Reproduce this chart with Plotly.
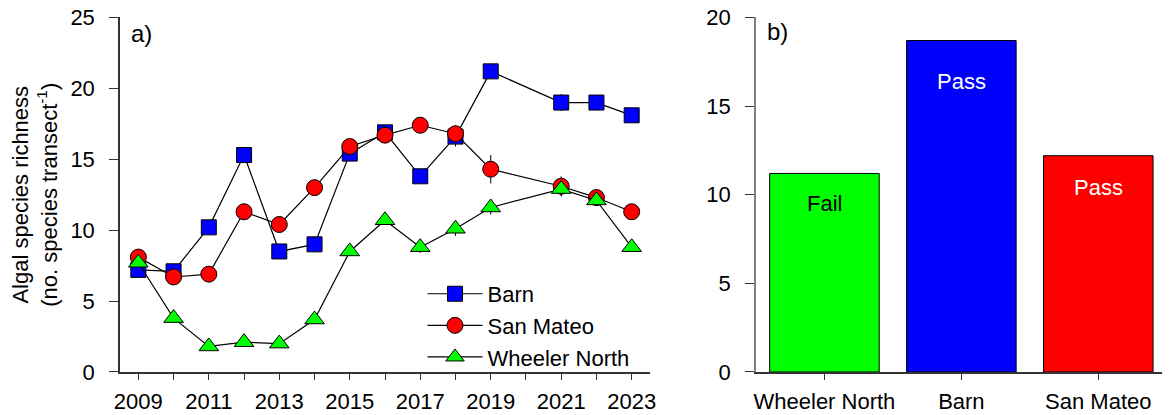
import plotly.graph_objects as go

years = [2009, 2010, 2011, 2012, 2013, 2014, 2015, 2016, 2017, 2018, 2019, 2021, 2022, 2023]

barn = [7.2, 7.1, 10.2, 15.3, 8.5, 9.0, 15.4, 16.9, 13.8, 16.6, 21.2, 19.0, 19.0, 18.1]
barn_se = [0.3, 0.2, 0.3, 0.5, 0.3, 0.3, 0.4, 0.4, 0.3, 0.7, 0.5, 0.6, 0.3, 0.3]

san_mateo = [8.1, 6.7, 6.9, 11.3, 10.4, 13.0, 15.9, 16.7, 17.4, 16.8, 14.3, 13.1, 12.3, 11.3]
san_mateo_se = [0.3, 0.3, 0.5, 0.5, 0.3, 0.4, 0.3, 0.4, 0.4, 0.6, 1.0, 0.7, 0.5, 0.3]

wheeler = [7.7, 3.8, 1.8, 2.1, 2.0, 3.7, 8.5, 10.7, 8.8, 10.1, 11.6, 12.9, 12.1, 8.8]
wheeler_se = [0.2, 0.3, 0.2, 0.3, 0.2, 0.3, 0.3, 0.3, 0.4, 0.5, 0.5, 0.5, 0.4, 0.3]

bar_sites = ["Wheeler North", "Barn", "San Mateo"]
bar_values = [11.2, 18.7, 12.2]
bar_status = ["Fail", "Pass", "Pass"]
bar_label_y = [9.5, 16.4, 10.4]

FONT = "Liberation Sans, Arial, sans-serif"
AXIS_COLOR = "#333333"
FS = 22

# the page body keeps its default 8px margin, so the figure is drawn 8px smaller
W, H = 1162, 407

fig = go.Figure()

series = [
    ("Barn", barn, barn_se, "square", "#0000ff", 15),
    ("San Mateo", san_mateo, san_mateo_se, "circle", "#ff0000", 16),
    ("Wheeler North", wheeler, wheeler_se, "triangle-up", "#00ff00", 17),
]
for name, vals, se, symbol, color, size in series:
    fig.add_trace(go.Scatter(
        x=years, y=vals, name=name, mode="lines+markers",
        line=dict(color="black", width=1.2),
        marker=dict(symbol=symbol, size=size, color=color,
                    line=dict(color="black", width=1)),
        error_y=dict(type="data", array=se, color="black", thickness=1, width=0),
        xaxis="x", yaxis="y",
    ))

fig.add_trace(go.Bar(
    x=bar_sites, y=bar_values, showlegend=False,
    marker=dict(color=["#00ff00", "#0000ff", "#ff0000"],
                line=dict(color="black", width=1)),
    xaxis="x2", yaxis="y2",
))

for site, ly, status in zip(bar_sites, bar_label_y, bar_status):
    fig.add_annotation(
        x=site, y=ly, xref="x2", yref="y2", text=status, showarrow=False,
        font=dict(size=FS, color="black" if status == "Fail" else "white", family=FONT),
    )

fig.add_annotation(x=0.1041, y=0.9754, xref="paper", yref="paper", text="a)",
                   showarrow=False, xanchor="left", yanchor="top",
                   font=dict(size=24, color="black", family=FONT))
fig.add_annotation(x=0.6515, y=0.980, xref="paper", yref="paper", text="b)",
                   showarrow=False, xanchor="left", yanchor="top",
                   font=dict(size=24, color="black", family=FONT))

common_axis = dict(showgrid=False, zeroline=False, showline=True, linecolor=AXIS_COLOR,
                   linewidth=1.5, ticks="outside", tickcolor=AXIS_COLOR, automargin=False,
                   ticklabeloverflow="allow",
                   tickfont=dict(size=FS, color="black", family=FONT))

fig.update_layout(
    width=W, height=H,
    margin=dict(l=0, r=0, t=0, b=0),
    plot_bgcolor="white", paper_bgcolor="white",
    font=dict(family=FONT, color="black"),
    bargap=0.2,
    xaxis=dict(common_axis, domain=[0.0964, 0.5525], range=[2008.48, 2023.52],
               tick0=2009, dtick=2, ticklen=6, ticklabelstandoff=3,
               minor=dict(dtick=1, tick0=2009, ticks="outside", ticklen=6, tickcolor=AXIS_COLOR),
               anchor="y"),
    yaxis=dict(common_axis, domain=[0.1057, 0.9767], range=[0, 25], dtick=5, ticklen=9,
               ticklabelstandoff=10, anchor="x",
               title=dict(text="Algal species richness<br>(no. species transect<sup>-1</sup>)",
                          font=dict(size=FS, family=FONT), standoff=12)),
    xaxis2=dict(common_axis, domain=[0.6437, 0.9972], range=[-0.5, 2.5], ticklen=6,
                ticklabelstandoff=3, anchor="y2"),
    yaxis2=dict(common_axis, domain=[0.1057, 0.9767], range=[0, 20], dtick=5, ticklen=9,
                linecolor="#808080", ticklabelstandoff=10, anchor="x2"),
    legend=dict(x=0.3567, y=0.349, xanchor="left", yanchor="top",
                bgcolor="rgba(0,0,0,0)", font=dict(size=FS, family=FONT),
                itemwidth=55),
)

fig.write_html("out.html")
